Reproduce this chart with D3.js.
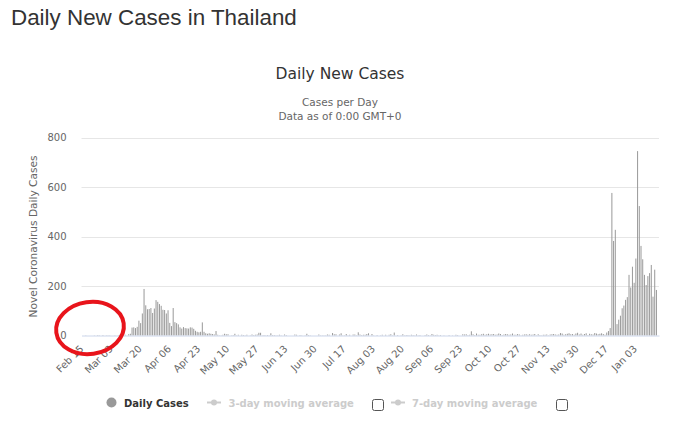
<!DOCTYPE html>
<html>
<head>
<meta charset="utf-8">
<script src="https://cdn.jsdelivr.net/npm/d3@7"></script>
<style>
    body { margin: 0; background: #fff; }
    svg { display: block; }
</style>
</head>
<body>
<svg id="chart" width="700" height="438"></svg>
<script>
// --- Daily new cases, one array per month (Feb 15 2020 -> Jan 16 2021) ---
const feb2020 = [0, 0, 1, 0, 0, 0, 0, 1, 0, 2, 1, 0, 2, 0, 1];
const mar2020 = [1, 1, 0, 0, 1, 0, 1, 0, 0, 0, 3, 0, 5, 7, 32, 33, 30, 35, 60, 50, 89, 188, 122, 106, 107, 111, 91, 109, 143, 136, 127];
const apr2020 = [120, 104, 103, 89, 102, 51, 38, 111, 54, 50, 45, 33, 28, 34, 30, 29, 28, 33, 32, 27, 19, 15, 13, 15, 53, 15, 9, 7, 9, 7];
const may2020 = [6, 4, 18, 3, 1, 1, 3, 7, 5, 5, 0, 1, 2, 7, 1, 3, 0, 3, 2, 1, 3, 0, 1, 4, 2, 3, 4, 11, 11, 1, 2];
const jun2020 = [1, 2, 1, 9, 2, 2, 1, 1, 3, 1, 0, 4, 2, 0, 0, 0, 0, 4, 3, 0, 2, 1, 0, 1, 7, 2, 1, 0, 0, 0];
const jul2020 = [0, 4, 1, 1, 1, 1, 4, 3, 0, 10, 5, 5, 0, 4, 9, 1, 1, 6, 1, 3, 0, 4, 4, 1, 13, 4, 2, 3, 3, 6, 9];
const aug2020 = [0, 6, 1, 0, 2, 0, 1, 3, 0, 3, 0, 3, 5, 1, 12, 0, 2, 0, 1, 5, 1, 2, 2, 1, 3, 2, 1, 4, 1, 2, 0];
const sep2020 = [0, 2, 4, 2, 1, 6, 3, 2, 3, 1, 2, 0, 1, 0, 0, 2, 0, 1, 0, 3, 2, 0, 0, 5, 4, 5, 2, 3, 17, 5];
const oct2020 = [2, 8, 3, 3, 5, 7, 3, 5, 7, 4, 5, 6, 3, 4, 8, 6, 2, 4, 6, 5, 3, 4, 8, 3, 3, 6, 4, 1, 3, 4, 5];
const nov2020 = [3, 5, 3, 4, 6, 1, 5, 2, 1, 3, 3, 4, 1, 4, 5, 6, 4, 3, 4, 10, 8, 3, 5, 7, 9, 5, 6, 3, 8, 11];
const dec2020 = [4, 8, 3, 6, 9, 2, 7, 5, 4, 10, 8, 5, 7, 9, 6, 3, 12, 18, 30, 576, 382, 427, 46, 64, 80, 110, 121, 144, 155, 245, 194];
const jan2021 = [278, 213, 311, 745, 523, 362, 308, 245, 204, 240, 252, 285, 157, 266, 184, 0];

const months = [feb2020, mar2020, apr2020, may2020, jun2020, jul2020, aug2020, sep2020, oct2020, nov2020, dec2020, jan2021];
const cases = months.flat();

// category labels: one per day
const startDay = new Date(2020, 1, 15);
const fmt = d3.timeFormat("%b %d");
const categories = cases.map((_, i) => fmt(d3.timeDay.offset(startDay, i)));

const tickLabels = ["Feb 15", "Mar 03", "Mar 20", "Apr 06", "Apr 23", "May 10", "May 27", "Jun 13", "Jun 30",
    "Jul 17", "Aug 03", "Aug 20", "Sep 06", "Sep 23", "Oct 10", "Oct 27", "Nov 13", "Nov 30", "Dec 17", "Jan 03"];
const yTicks = [0, 200, 400, 600, 800];

// --- Layout ---
const plot = { left: 81.5, right: 659, top: 137.5, bottom: 335.5 };
const font = "'DejaVu Sans', sans-serif";

const svg = d3.select("#chart");

// Page heading
svg.append("text")
    .attr("x", 11).attr("y", 25)
    .attr("font-family", "'Liberation Sans', Arial, sans-serif")
    .attr("font-size", "22.4px")
    .attr("fill", "#333")
    .text("Daily New Cases in Thailand");

// Chart title + subtitle
svg.append("text")
    .attr("x", 340).attr("y", 79)
    .attr("text-anchor", "middle")
    .attr("font-family", font).attr("font-size", "15.5px")
    .attr("fill", "#333")
    .text("Daily New Cases");

svg.append("text")
    .attr("x", 340).attr("y", 106)
    .attr("text-anchor", "middle")
    .attr("font-family", font).attr("font-size", "10.5px")
    .attr("fill", "#666")
    .text("Cases per Day");

svg.append("text")
    .attr("x", 340).attr("y", 120)
    .attr("text-anchor", "middle")
    .attr("font-family", font).attr("font-size", "10.5px")
    .attr("fill", "#666")
    .text("Data as of 0:00 GMT+0");

// --- Scales ---
const x = d3.scaleBand().domain(categories).range([plot.left, plot.right]).padding(0);
const y = d3.scaleLinear().domain([0, 800]).range([plot.bottom, plot.top]);

// Gridlines
svg.append("g")
    .selectAll("line")
    .data(yTicks.filter(t => t > 0))
    .join("line")
    .attr("x1", plot.left).attr("x2", plot.right)
    .attr("y1", d => Math.round(y(d)) + 0.5).attr("y2", d => Math.round(y(d)) + 0.5)
    .attr("stroke", "#e6e6e6");

// Y axis labels
const yAxisG = svg.append("g")
    .attr("transform", `translate(${plot.left},0)`)
    .call(d3.axisLeft(y).tickValues(yTicks).tickSize(0).tickPadding(15));
yAxisG.select(".domain").remove();
yAxisG.selectAll("text")
    .attr("font-family", font).attr("font-size", "10px")
    .attr("fill", "#666");

// Y axis title
svg.append("text")
    .attr("transform", `translate(37,${(plot.top + plot.bottom) / 2}) rotate(-90)`)
    .attr("text-anchor", "middle")
    .attr("font-family", font).attr("font-size", "10.6px")
    .attr("fill", "#666")
    .text("Novel Coronavirus Daily Cases");

// Bars
svg.append("g")
    .selectAll("rect")
    .data(cases.map((v, i) => ({ cat: categories[i], v })))
    .join("rect")
    .attr("x", d => x(d.cat) + x.bandwidth() / 2 - 0.5)
    .attr("width", 1)
    .attr("y", d => y(d.v))
    .attr("height", d => y(0) - y(d.v))
    .attr("fill", "#999");

// X axis
const xAxisG = svg.append("g")
    .attr("transform", `translate(0,${plot.bottom})`)
    .call(d3.axisBottom(x).tickValues(tickLabels).tickSize(0));
xAxisG.select(".domain").attr("stroke", "#ccd6eb");
xAxisG.selectAll("text")
    .attr("font-family", font).attr("font-size", "10px")
    .attr("fill", "#666")
    .attr("text-anchor", "end")
    .attr("x", 0).attr("y", 0).attr("dy", 0)
    .attr("transform", "translate(2,14) rotate(-45)");

// --- Legend ---
const legend = svg.append("g").attr("font-family", font).attr("font-size", "10px").attr("font-weight", "bold");

legend.append("circle").attr("cx", 111.5).attr("cy", 402.5).attr("r", 5).attr("fill", "#999");
legend.append("text").attr("x", 124).attr("y", 406.5).attr("fill", "#333").text("Daily Cases");

const maItems = [
    { label: "3-day moving average", sx: 207, tx: 228.5, box: 372.5 },
    { label: "7-day moving average", sx: 391, tx: 412, box: 556.5 }
];
maItems.forEach(m => {
    legend.append("line")
        .attr("x1", m.sx).attr("x2", m.sx + 14)
        .attr("y1", 402.5).attr("y2", 402.5)
        .attr("stroke", "#ccc").attr("stroke-width", 2);
    legend.append("circle").attr("cx", m.sx + 7).attr("cy", 402.5).attr("r", 3).attr("fill", "#ccc");
    legend.append("text").attr("x", m.tx).attr("y", 406.5).attr("fill", "#ccc").text(m.label);
    legend.append("rect")
        .attr("x", m.box).attr("y", 399.5).attr("width", 11).attr("height", 11).attr("rx", 2)
        .attr("fill", "#fff").attr("stroke", "#555");
});

// red hand-drawn marker ellipse
svg.append("ellipse")
    .attr("cx", 90).attr("cy", 328).attr("rx", 34).attr("ry", 26)
    .attr("transform", "rotate(-8,90,328)")
    .attr("fill", "none").attr("stroke", "#e8141b").attr("stroke-width", 4);
</script>
</body>
</html>
